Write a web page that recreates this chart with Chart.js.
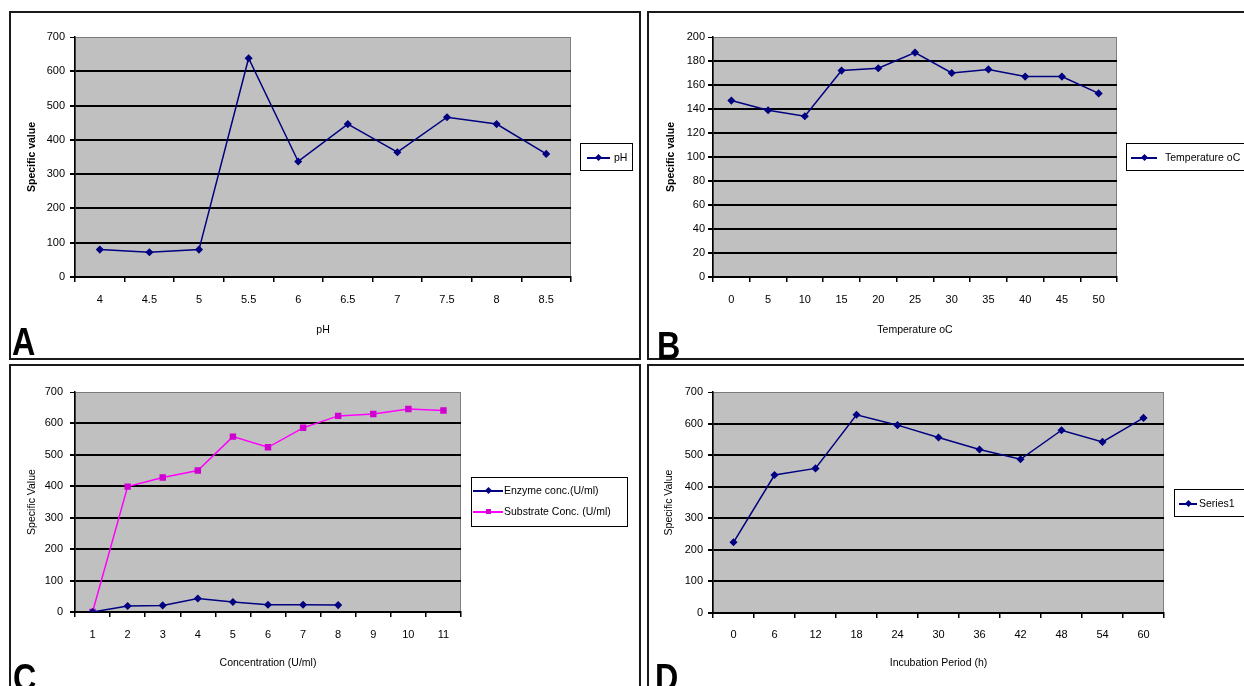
<!DOCTYPE html>
<html><head><meta charset="utf-8">
<script src="https://cdn.jsdelivr.net/npm/chart.js@4.4.1/dist/chart.umd.min.js"></script>
<style>
body{margin:0;width:1244px;height:686px;overflow:hidden;background:#fff;position:relative;font-family:"Liberation Sans",Arial,sans-serif;}
.panel{position:absolute;border:2px solid #1a1a1a;box-sizing:border-box;pointer-events:none;}
canvas{position:absolute;}
.legend{position:absolute;border:1.5px solid #000;background:#fff;box-sizing:border-box;white-space:nowrap;overflow:visible;}
.lline{position:absolute;height:1.5px;}
.lmark{position:absolute;width:5px;height:5px;}
.ltext{position:absolute;font-size:10.5px;color:#000;line-height:12px;}
.letter{position:absolute;font-weight:bold;font-size:38px;line-height:1;transform:scaleX(0.85);transform-origin:left top;color:#000;}
</style></head><body>

<canvas id="cA" width="640" height="360" style="left:0;top:0"></canvas>
<canvas id="cB" width="600" height="360" style="left:644px;top:0"></canvas>
<canvas id="cC" width="640" height="324" style="left:0;top:362px"></canvas>
<canvas id="cD" width="600" height="324" style="left:644px;top:362px"></canvas>

<div class="panel" style="left:9px;top:11px;width:632px;height:349px"></div>
<div class="panel" style="left:647px;top:11px;width:700px;height:349px"></div>
<div class="panel" style="left:9px;top:364px;width:632px;height:340px"></div>
<div class="panel" style="left:647px;top:364px;width:700px;height:340px"></div>

<div class="letter" style="left:12px;top:323px">A</div>
<div class="letter" style="left:657px;top:327px">B</div>
<div class="letter" style="left:13px;top:659px">C</div>
<div class="letter" style="left:655px;top:659px">D</div>

<div id="legends"></div>

<script>
// ---- data ----
const phLabels = ['4','4.5','5','5.5','6','6.5','7','7.5','8','8.5'];
const phValues = [80, 72, 80, 638, 337, 446, 364, 466, 446, 359];

const tempLabels = ['0','5','10','15','20','25','30','35','40','45','50'];
const tempValues = [147, 139, 134, 172, 174, 187, 170, 173, 167, 167, 153];

const concLabels = ['1','2','3','4','5','6','7','8','9','10','11'];
const enzymeValues = [0, 19, 21, 43, 32, 23, 23, 22];
const substrateValues = [0, 399, 428, 450, 558, 524, 586, 624, 630, 646, 641];

const incLabels = ['0','6','12','18','24','30','36','42','48','54','60'];
const incValues = [224, 437, 458, 628, 595, 556, 518, 487, 579, 542, 618];

const NAVY = '#000080';
const MAGENTA = '#ff00ff';

Chart.defaults.color = '#000';
Chart.defaults.font.family = '"Liberation Sans", Arial, sans-serif';

const plotBg = {
  id: 'plotBg',
  beforeDraw(chart) {
    const {ctx, chartArea: a} = chart;
    ctx.save();
    ctx.fillStyle = '#c0c0c0';
    ctx.fillRect(a.left, a.top, a.width, a.height);
    ctx.strokeStyle = '#808080';
    ctx.lineWidth = 1;
    ctx.strokeRect(a.left + 0.5, a.top + 0.5, a.width - 1, a.height - 1);
    ctx.restore();
  }
};

function makeChart(id, spec) {
  const c = spec.canvas, p = spec.plot;
  const padLeft = spec.yTitleX - 6 - c.x;
  const yWidth = p.L - c.x - padLeft;
  const padTop = p.T - c.y;
  const padRight = c.x + c.w - p.R;
  const xHeight = spec.xTitleY + 6 - p.B;
  const padBottom = c.y + c.h - (p.B + xHeight);
  const tickPad = spec.labelY - p.B - 5 - 6.5;
  const ymax = spec.ymax;
  return new Chart(document.getElementById(id), {
    type: 'line',
    data: { labels: spec.labels, datasets: spec.datasets },
    options: {
      responsive: false,
      devicePixelRatio: 1,
      animation: false,
      events: [],
      layout: { padding: { left: padLeft, top: padTop, right: padRight, bottom: padBottom } },
      plugins: { legend: { display: false }, tooltip: { enabled: false } },
      scales: {
        x: {
          type: 'category',
          offset: true,
          grid: { offset: true, drawOnChartArea: false, drawTicks: true, tickLength: 5, color: '#000', lineWidth: 1.5 },
          border: { display: true, color: '#000', width: 2 },
          ticks: { padding: tickPad, maxRotation: 0, autoSkip: false, font: { size: 11 }, color: '#000' },
          title: { display: true, text: spec.xTitle, padding: 0, font: { size: 10.5 }, color: '#000' },
          afterFit(s) { s.height = xHeight; }
        },
        y: {
          min: 0, max: ymax,
          ticks: { stepSize: spec.step, padding: spec.yPad, font: { size: 11 }, color: '#000' },
          grid: {
            color: ctx => (ctx.tick && ctx.tick.value === ymax) ? '#7a7a7a' : '#000',
            lineWidth: ctx => (ctx.tick && ctx.tick.value === ymax) ? 1 : 2,
            tickColor: '#000', tickLength: 5, drawTicks: true
          },
          border: { display: true, color: '#000', width: 1.5 },
          title: { display: true, text: spec.yTitle, padding: 0, font: { size: 10.5, weight: spec.yBold ? 'bold' : 'normal' }, color: '#000' },
          afterFit(s) { s.width = yWidth; }
        }
      }
    },
    plugins: [plotBg]
  });
}

function navySet(label, data) {
  return { label, data, borderColor: NAVY, backgroundColor: NAVY, borderWidth: 1.5,
    pointStyle: 'rectRot', pointRadius: 3, pointBackgroundColor: NAVY, pointBorderColor: NAVY, tension: 0 };
}

makeChart('cA', {
  canvas: {x:0, y:0, w:640, h:360}, plot: {L:75, T:37, R:571, B:277},
  yTitleX: 32, xTitleY: 330, labelY: 300, yPad: 5,
  ymax: 700, step: 100, labels: phLabels, xTitle: 'pH', yTitle: 'Specific value', yBold: true,
  datasets: [navySet('pH', phValues)]
});

makeChart('cB', {
  canvas: {x:644, y:0, w:600, h:360}, plot: {L:713, T:37, R:1117, B:277},
  yTitleX: 671, xTitleY: 330, labelY: 300, yPad: 3,
  ymax: 200, step: 20, labels: tempLabels, xTitle: 'Temperature oC', yTitle: 'Specific value', yBold: true,
  datasets: [navySet('Temperature oC', tempValues)]
});

makeChart('cC', {
  canvas: {x:0, y:362, w:640, h:324}, plot: {L:75, T:392, R:461, B:612},
  yTitleX: 32, xTitleY: 663, labelY: 635, yPad: 7,
  ymax: 700, step: 100, labels: concLabels, xTitle: 'Concentration (U/ml)', yTitle: 'Specific Value', yBold: false,
  datasets: [
    navySet('Enzyme conc.(U/ml)', enzymeValues),
    { label: 'Substrate Conc. (U/ml)', data: substrateValues, borderColor: MAGENTA, backgroundColor: MAGENTA,
      borderWidth: 1.5, pointStyle: 'rect', pointRadius: 3.5, pointBackgroundColor: '#d000d0', pointBorderColor: '#d000d0', tension: 0 }
  ]
});

makeChart('cD', {
  canvas: {x:644, y:362, w:600, h:324}, plot: {L:713, T:392, R:1164, B:613},
  yTitleX: 669, xTitleY: 663, labelY: 635, yPad: 5,
  ymax: 700, step: 100, labels: incLabels, xTitle: 'Incubation Period (h)', yTitle: 'Specific Value', yBold: false,
  datasets: [navySet('Series1', incValues)]
});

// ---- legends (HTML) ----
const legendSpecs = [
  { box: {l:580, t:143, w:53, h:28}, rows: [ {y:14, x1:6, x2:29, color:NAVY, marker:'diamond', text:'pH', tx:33} ] },
  { box: {l:1126, t:143, w:140, h:28}, rows: [ {y:14, x1:4, x2:30, color:NAVY, marker:'diamond', text:'Temperature oC', tx:38} ] },
  { box: {l:471, t:477, w:157, h:50}, rows: [
      {y:13, x1:1, x2:31, color:NAVY, marker:'diamond', text:'Enzyme conc.(U/ml)', tx:32},
      {y:34, x1:1, x2:31, color:MAGENTA, marker:'square', text:'Substrate Conc. (U/ml)', tx:32} ] },
  { box: {l:1174, t:489, w:100, h:28}, rows: [ {y:14, x1:4, x2:22, color:NAVY, marker:'diamond', text:'Series1', tx:24} ] }
];
const host = document.getElementById('legends');
legendSpecs.forEach(s => {
  const b = document.createElement('div');
  b.className = 'legend';
  b.style.cssText = `left:${s.box.l}px;top:${s.box.t}px;width:${s.box.w}px;height:${s.box.h}px;`;
  s.rows.forEach(r => {
    const ln = document.createElement('div');
    ln.className = 'lline';
    ln.style.cssText = `left:${r.x1}px;top:${r.y - 1}px;width:${r.x2 - r.x1}px;background:${r.color};`;
    b.appendChild(ln);
    const mk = document.createElement('div');
    mk.className = 'lmark';
    const mx = (r.x1 + r.x2) / 2 - 2.5;
    mk.style.cssText = `left:${mx}px;top:${r.y - 3}px;background:${r.color === MAGENTA ? '#d000d0' : r.color};` +
      (r.marker === 'diamond' ? 'transform:rotate(45deg);' : '');
    b.appendChild(mk);
    const tx = document.createElement('div');
    tx.className = 'ltext';
    tx.style.cssText = `left:${r.tx}px;top:${r.y - 7}px;`;
    tx.textContent = r.text;
    b.appendChild(tx);
  });
  host.appendChild(b);
});
</script>
</body></html>
